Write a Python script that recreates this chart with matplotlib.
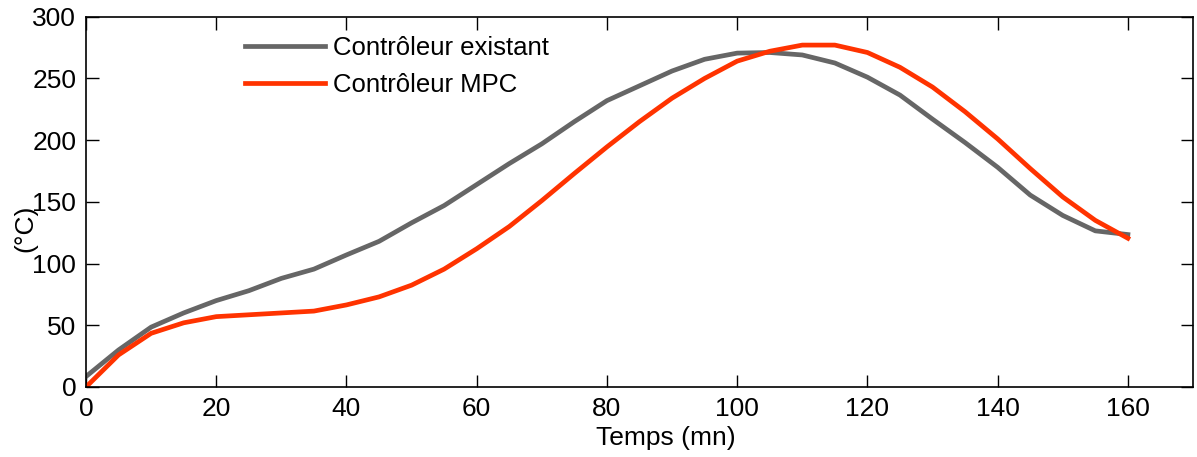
import matplotlib
matplotlib.use("Agg")
import matplotlib.pyplot as plt

plt.rcParams['font.family'] = ['Liberation Sans', 'DejaVu Sans']

temps = [0, 5, 10, 15, 20, 25, 30, 35, 40, 45, 50, 55, 60, 65, 70, 75, 80,
         85, 90, 95, 100, 105, 110, 115, 120, 125, 130, 135, 140, 145, 150, 155, 160]
existant = [8.5, 30, 48.5, 60, 70, 78, 88, 95.5, 107, 118, 133, 147, 164, 181, 197, 215, 232,
            244, 256, 265.5, 270.5, 271, 269, 262.5, 251, 236.5, 217, 198, 178, 155.5, 139, 126.5, 123.5]
mpc = [0, 26, 43.5, 52, 57, 58.5, 60, 61.5, 66.5, 73, 82.5, 95.5, 112, 130, 151, 173, 194.5,
       215, 234, 250, 264, 272, 277, 277, 271, 259, 243, 223, 201, 177, 154, 135, 120.5]

label_existant = "Contrôleur existant"
label_mpc = "Contrôleur MPC"
xticks = [0, 20, 40, 60, 80, 100, 120, 140, 160]
yticks = [0, 50, 100, 150, 200, 250, 300]

W, H = 1197, 457
fig = plt.figure(figsize=(W / 100, H / 100), dpi=100)
ax = fig.add_axes([86 / W, 1 - 387 / H, (1193 - 86) / W, (387 - 16.7) / H])

ax.plot(temps, existant, color='#666666', lw=3.4, label=label_existant, solid_joinstyle='round')
ax.plot(temps, mpc, color='#FF3300', lw=3.4, label=label_mpc, solid_joinstyle='round')

ax.set_xlim(0, 170)
ax.set_ylim(0, 300)
ax.set_xticks(xticks)
ax.set_yticks(yticks)
ax.tick_params(direction='in', length=9, width=1, top=True, right=True,
               labelsize=19, colors='black')
ax.tick_params(axis='x', pad=7)
ax.tick_params(axis='y', pad=7)
for s in ax.spines.values():
    s.set_linewidth(1.2)

ax.set_xlabel("Temps (mn)", fontsize=19)
ax.xaxis.set_label_coords((666 - 86) / (1193 - 86), -(438 - 387) / (387 - 16.7), transform=ax.transAxes)
ax.xaxis.label.set_va('center')
ax.set_ylabel("(°C)", fontsize=19)
ax.yaxis.set_label_coords(-(86 - 25) / (1193 - 86), (387 - 228) / (387 - 16.7), transform=ax.transAxes)
ax.yaxis.label.set_va('center')

leg = ax.legend(loc='upper left', bbox_to_anchor=((245 - 86) / (1193 - 86), (387 - 36) / (387 - 16.7)),
                frameon=False, fontsize=18.5, handlelength=3.1, handletextpad=0.32,
                borderpad=0, borderaxespad=0, labelspacing=0.51)

fig.savefig("out.png", dpi=100)
